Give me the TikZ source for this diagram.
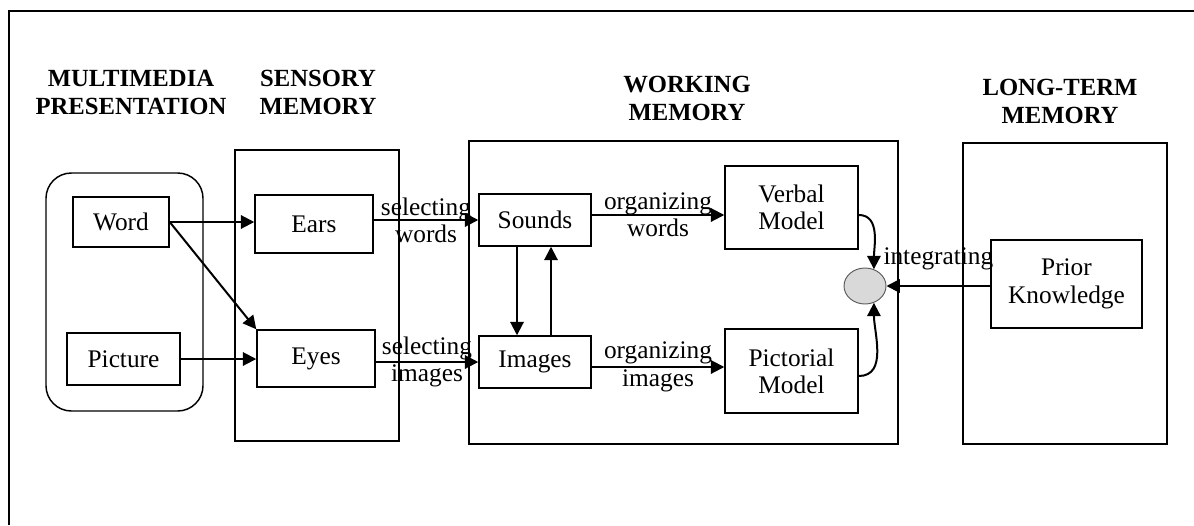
\documentclass[tikz,border=0pt]{standalone}
\usepackage{fontspec}
\setmainfont{Liberation Serif}
\usetikzlibrary{arrows.meta}
\usetikzlibrary{shapes.geometric}

\tikzset{
  box/.style={draw,line width=1.1pt,inner sep=0pt,align=center},
  heading/.style={font=\fontsize{18.5}{21}\selectfont\bfseries,align=center},
  flow/.style={-{Triangle[length=10pt,width=10pt]},line width=1.5pt},
  lbl/.style={align=center,inner sep=0pt}
}

\begin{document}
\begin{tikzpicture}[x=0.75pt,y=-0.75pt,font=\fontsize{19}{20.5}\selectfont]
\useasboundingbox (0,0) rectangle (1194,525);
\fill[white] (0,0) rectangle (1194,525);
\draw[line width=1.1pt] (9,525) -- (9,11) -- (1194,11);

% headings
\node[heading] (hmedia) at (131,92) {MULTIMEDIA\\PRESENTATION};
\node[heading] (hsensory) at (318,92) {SENSORY\\MEMORY};
\node[heading] (hworking) at (687,98.5) {WORKING\\MEMORY};
\node[heading] (hlongterm) at (1060,101.5) {LONG-TERM\\MEMORY};

% stores
\node[box,rounded corners=19pt,minimum width=117.75pt,minimum height=178.5pt] (media) at (124.5,292) {};
\node[box,minimum width=123pt,minimum height=218.25pt] (sensory) at (317,295.5) {};
\node[box,minimum width=321.75pt,minimum height=227.25pt] (working) at (683.5,292.5) {};
\node[box,minimum width=153pt,minimum height=225.75pt] (longterm) at (1065,293.5) {};

\node[box,minimum width=72pt,minimum height=37.5pt] (word) at (121,222) {Word};
\node[box,minimum width=84.75pt,minimum height=39pt] (picture) at (123.5,359) {Picture};
\node[box,minimum width=88.5pt,minimum height=43.5pt] (ears) at (314,224) {Ears};
\node[box,minimum width=88.5pt,minimum height=42.75pt] (eyes) at (316,358.5) {Eyes};
\node[box,minimum width=84pt,minimum height=39pt] (sounds) at (535,220) {Sounds};
\node[box,minimum width=84pt,minimum height=39pt] (images) at (535,362) {Images};
\node[box,minimum width=99.75pt,minimum height=62.25pt] (verbal) at (791.5,207.5) {Verbal\\Model};
\node[box,minimum width=99.75pt,minimum height=63pt] (pictorial) at (791.5,371) {Pictorial\\Model};
\node[ellipse,draw=gray!70!black,fill=gray!30,line width=0.7pt,minimum width=31.5pt,minimum height=27pt,inner sep=0pt] (merge) at (865,286) {};
\node[box,minimum width=113.25pt,minimum height=66pt] (prior) at (1066.5,284) {Prior\\Knowledge};

% arrows
\draw[flow] (word.east) -- (word.east -| ears.west);
\draw[flow] (word.east) -- (eyes.north west);
\draw[flow] (picture.east) -- (picture.east -| eyes.west);
\draw[flow] (ears.east |- sounds.west) -- node[lbl] {selecting\\words} (sounds.west);
\draw[flow] (eyes.east |- images.west) -- node[lbl] {selecting\\images} (images.west);
\draw[flow] ([yshift=3.75pt]sounds.east) -- node[lbl] {organizing\\words} ([yshift=3.75pt]sounds.east -| verbal.west);
\draw[flow] ([yshift=-3.75pt]images.east) -- node[lbl] {organizing\\images} ([yshift=-3.75pt]images.east -| pictorial.west);
\draw[flow] ([xshift=-13.5pt]sounds.south) -- ([xshift=-13.5pt]images.north);
\draw[flow] ([xshift=12pt]images.north) -- ([xshift=12pt]sounds.south);
\draw[flow] ([yshift=-5.6pt]verbal.east) to[out=0,in=90] (merge.62);
\draw[flow] ([yshift=-3.75pt]pictorial.east) to[out=0,in=-90] (merge.-62);
\draw[flow] (prior.west |- merge.east) -- node[lbl,yshift=20pt] {integrating} (merge.east);

\end{tikzpicture}
\end{document}
